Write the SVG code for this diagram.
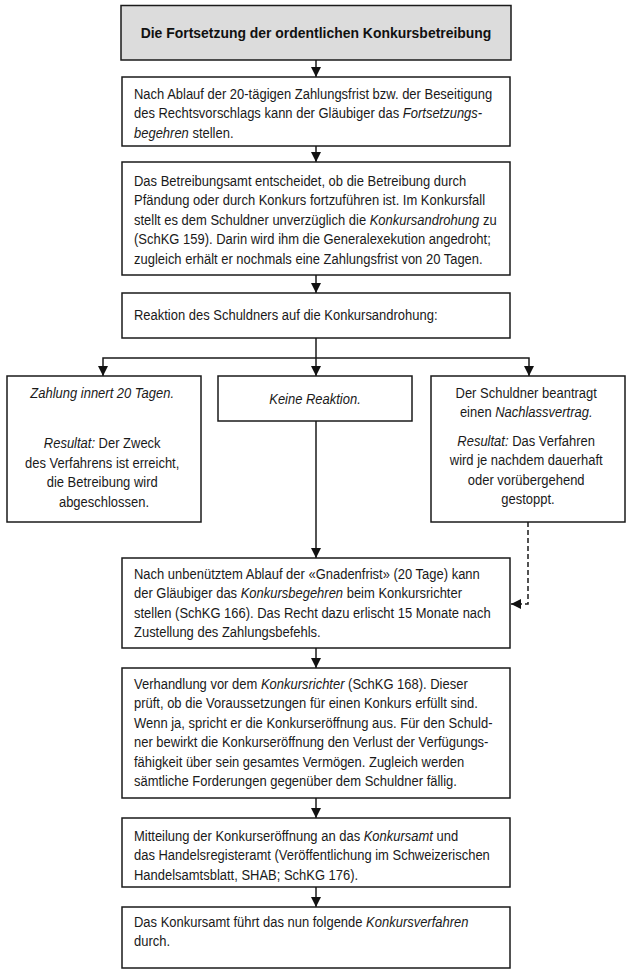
<svg xmlns="http://www.w3.org/2000/svg" width="632" height="975" viewBox="0 0 632 975">
<style>
.box{fill:#ffffff;stroke:#1a1a1a;stroke-width:1.5}
.title{fill:#dcdcdc;stroke:#1a1a1a;stroke-width:1.5}
.t{font-family:"Liberation Sans",Arial,sans-serif;font-size:15px;fill:#1a1a1a}
.tb{font-family:"Liberation Sans",Arial,sans-serif;font-size:15px;font-weight:bold;fill:#111111}
.c{text-anchor:middle}
.i{font-style:italic}
.ln{fill:none;stroke:#1a1a1a;stroke-width:1.5}
.dash{fill:none;stroke:#1a1a1a;stroke-width:1.5;stroke-dasharray:5,3}
</style>
<defs>
<marker id="ah" markerUnits="userSpaceOnUse" markerWidth="10" markerHeight="10" refX="9" refY="4.5" orient="auto" viewBox="0 0 9 9">
<path d="M0,0 L9,4.5 L0,9 z" fill="#111111"/>
</marker>
</defs>

<g id="connectors">
<path class="ln" d="M316,60 V77" marker-end="url(#ah)"/>
<path class="ln" d="M316,146 V162" marker-end="url(#ah)"/>
<path class="ln" d="M316,275 V293" marker-end="url(#ah)"/>
<path class="ln" d="M316,338 V376" marker-end="url(#ah)"/>
<path class="ln" d="M316,358 H103 V376" marker-end="url(#ah)"/>
<path class="ln" d="M316,358 H529 V376" marker-end="url(#ah)"/>
<path class="ln" d="M316,421 V558" marker-end="url(#ah)"/>
<path class="ln" d="M316,648 V668" marker-end="url(#ah)"/>
<path class="ln" d="M316,798 V818" marker-end="url(#ah)"/>
<path class="ln" d="M316,887 V907" marker-end="url(#ah)"/>
<path class="dash" d="M528,522 V604 H511" marker-end="url(#ah)"/>
</g>

<g id="n-title">
<rect class="title" x="121" y="5.5" width="390" height="54.5"/>
<text class="tb c" transform="translate(316,38) scale(0.93,1)" x="0" y="0">Die Fortsetzung der ordentlichen Konkursbetreibung</text>
</g>

<g id="n-fortsetzung">
<rect class="box" x="122" y="77" width="388" height="69"/>
<text class="t" transform="translate(134,99) scale(0.865,1)">
<tspan x="0" y="0">Nach Ablauf der 20-tägigen Zahlungsfrist bzw. der Beseitigung</tspan>
<tspan x="0" y="19.5">des Rechtsvorschlags kann der Gläubiger das <tspan class="i">Fortsetzungs-</tspan></tspan>
<tspan x="0" y="39"><tspan class="i">begehren</tspan> stellen.</tspan>
</text>
</g>

<g id="n-betreibungsamt">
<rect class="box" x="122" y="162" width="388" height="113"/>
<text class="t" transform="translate(134,186) scale(0.865,1)">
<tspan x="0" y="0">Das Betreibungsamt entscheidet, ob die Betreibung durch</tspan>
<tspan x="0" y="19.5">Pfändung oder durch Konkurs fortzuführen ist. Im Konkursfall</tspan>
<tspan x="0" y="39">stellt es dem Schuldner unverzüglich die <tspan class="i">Konkursandrohung</tspan> zu</tspan>
<tspan x="0" y="58.5">(SchKG 159). Darin wird ihm die Generalexekution angedroht;</tspan>
<tspan x="0" y="78">zugleich erhält er nochmals eine Zahlungsfrist von 20 Tagen.</tspan>
</text>
</g>

<g id="n-reaktion">
<rect class="box" x="122" y="293" width="388" height="45"/>
<text class="t" transform="translate(134,320) scale(0.865,1)">Reaktion des Schuldners auf die Konkursandrohung:</text>
</g>

<g id="n-zahlung">
<rect class="box" x="7" y="376" width="194" height="146"/>
<text class="t c" transform="translate(104,398) scale(0.865,1)">
<tspan class="i" x="0" y="0">Zahlung innert 20 Tagen.</tspan>
<tspan x="0" y="50"><tspan class="i">Resultat:</tspan> Der Zweck</tspan>
<tspan x="0" y="70">des Verfahrens ist erreicht,</tspan>
<tspan x="0" y="89.5">die Betreibung wird</tspan>
<tspan x="0" y="109">abgeschlossen.</tspan>
</text>
</g>

<g id="n-keine">
<rect class="box" x="218" y="376" width="194" height="45"/>
<text class="t c i" transform="translate(315,404) scale(0.865,1)">Keine Reaktion.</text>
</g>

<g id="n-nachlass">
<rect class="box" x="431" y="376" width="194" height="146"/>
<text class="t c" transform="translate(528,398) scale(0.865,1)">
<tspan x="0" y="0">Der Schuldner beantragt</tspan>
<tspan x="0" y="19.5">einen <tspan class="i">Nachlassvertrag.</tspan></tspan>
<tspan x="0" y="48"><tspan class="i">Resultat:</tspan> Das Verfahren</tspan>
<tspan x="0" y="67.5">wird je nachdem dauerhaft</tspan>
<tspan x="0" y="87">oder vorübergehend</tspan>
<tspan x="0" y="106.5">gestoppt.</tspan>
</text>
</g>

<g id="n-konkursbegehren">
<rect class="box" x="122" y="558" width="388" height="90"/>
<text class="t" transform="translate(134,579) scale(0.865,1)">
<tspan x="0" y="0">Nach unbenütztem Ablauf der «Gnadenfrist» (20 Tage) kann</tspan>
<tspan x="0" y="19.5">der Gläubiger das <tspan class="i">Konkursbegehren</tspan> beim Konkursrichter</tspan>
<tspan x="0" y="39">stellen (SchKG 166). Das Recht dazu erlischt 15 Monate nach</tspan>
<tspan x="0" y="58.5">Zustellung des Zahlungsbefehls.</tspan>
</text>
</g>

<g id="n-verhandlung">
<rect class="box" x="122" y="668" width="388" height="130"/>
<text class="t" transform="translate(134,689) scale(0.865,1)">
<tspan x="0" y="0">Verhandlung vor dem <tspan class="i">Konkursrichter</tspan> (SchKG 168). Dieser</tspan>
<tspan x="0" y="19.5">prüft, ob die Voraussetzungen für einen Konkurs erfüllt sind.</tspan>
<tspan x="0" y="39">Wenn ja, spricht er die Konkurseröffnung aus. Für den Schuld-</tspan>
<tspan x="0" y="58.5">ner bewirkt die Konkurseröffnung den Verlust der Verfügungs-</tspan>
<tspan x="0" y="78">fähigkeit über sein gesamtes Vermögen. Zugleich werden</tspan>
<tspan x="0" y="97.5">sämtliche Forderungen gegenüber dem Schuldner fällig.</tspan>
</text>
</g>

<g id="n-mitteilung">
<rect class="box" x="122" y="818" width="388" height="69"/>
<text class="t" transform="translate(134,841) scale(0.865,1)">
<tspan x="0" y="0">Mitteilung der Konkurseröffnung an das <tspan class="i">Konkursamt</tspan> und</tspan>
<tspan x="0" y="19.5">das Handelsregisteramt (Veröffentlichung im Schweizerischen</tspan>
<tspan x="0" y="39">Handelsamtsblatt, SHAB; SchKG 176).</tspan>
</text>
</g>

<g id="n-konkursverfahren">
<rect class="box" x="122" y="907" width="388" height="61"/>
<text class="t" transform="translate(134,927) scale(0.865,1)">
<tspan x="0" y="0">Das Konkursamt führt das nun folgende <tspan class="i">Konkursverfahren</tspan></tspan>
<tspan x="0" y="19.5">durch.</tspan>
</text>
</g>
</svg>
